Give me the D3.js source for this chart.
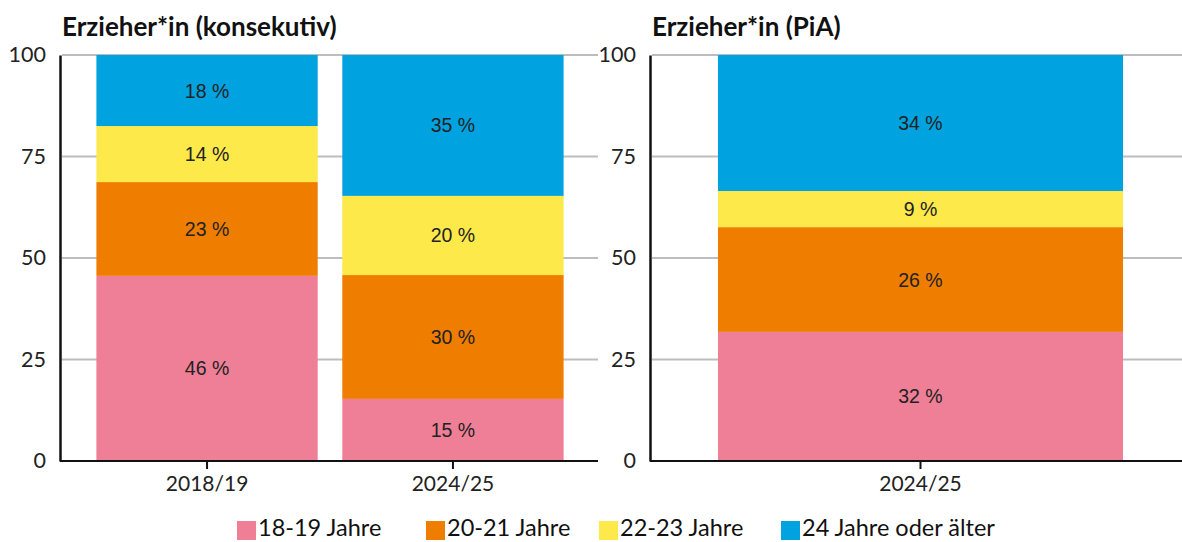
<!DOCTYPE html>
<html lang="de">
<head>
    <meta charset="UTF-8">
    <title>Erzieher*in Altersstruktur</title>
    <script src="https://cdn.jsdelivr.net/npm/d3@7"></script>
    <style>
        body { margin: 0; background: #fff; }
        text { font-family: Lato, "DejaVu Sans", sans-serif; }
    </style>
</head>
<body>
    <div id="vis"></div>

    <script>

        // age groups (stack order bottom -> top)
        var groups = ["18-19 Jahre", "20-21 Jahre", "22-23 Jahre", "24 Jahre oder älter"];
        var colors = ["#ef7f97", "#ee7d00", "#fde94a", "#00a3df"];

        // konsekutiv
        var konsYears = ["2018/19", "2024/25"];
        var kons1819 = [45.6, 23.1, 13.8, 17.5];
        var kons2425 = [15.3, 30.5, 19.5, 34.7];
        var konsLabels = [[46, 23, 14, 18], [15, 30, 20, 35]];

        // PiA
        var piaYears = ["2024/25"];
        var pia2425 = [31.8, 25.8, 8.9, 33.5];
        var piaLabels = [[32, 26, 9, 34]];

        var yTicks = [0, 25, 50, 75, 100];

        var width = 1182;
        var height = 542;

        var svg = d3.select("#vis")
            .append("svg")
              .attr("width", width)
              .attr("height", height);

        var y = d3.scaleLinear()
            .domain([0, 100])
            .range([461, 55]);

        function drawPanel(title, years, values, labels, x0, x1, gridEnd, pOuter) {
            var x = d3.scaleBand()
                .domain(years)
                .range([x0, x1])
                .paddingInner(0.1)
                .paddingOuter(pOuter);

            var g = svg.append("g");

            // grid lines
            g.selectAll(".grid")
                .data(yTicks.slice(1))
                .enter()
                .append("line")
                .attr("x1", x0 + 2)
                .attr("x2", gridEnd)
                .attr("y1", function(d){ return y(d); })
                .attr("y2", function(d){ return y(d); })
                .attr("stroke", "#bdbdbd")
                .attr("stroke-width", 2);

            // stacked bars
            years.forEach(function(yr, i) {
                var cum = 0;
                values[i].forEach(function(v, j) {
                    var lo = cum, hi = cum + v;
                    cum = hi;
                    g.append("rect")
                        .attr("x", x(yr))
                        .attr("width", x.bandwidth())
                        .attr("y", y(Math.min(hi, 100)))
                        .attr("height", y(lo) - y(Math.min(hi, 100)))
                        .attr("fill", colors[j]);
                    g.append("text")
                        .attr("x", x(yr) + x.bandwidth() / 2)
                        .attr("y", (y(lo) + y(Math.min(hi, 100))) / 2 + 7)
                        .attr("text-anchor", "middle")
                        .style("font-family", "'Liberation Sans', Arial, sans-serif")
                        .style("font-size", "19.5px")
                        .attr("fill", "#222")
                        .text(labels[i][j] + " %");
                });
            });

            // baseline
            g.append("line")
                .attr("x1", x0)
                .attr("x2", gridEnd)
                .attr("y1", y(0))
                .attr("y2", y(0))
                .attr("stroke", "#111")
                .attr("stroke-width", 2);

            // y axis
            var yAxis = d3.axisLeft(y).tickValues(yTicks).tickSize(0).tickPadding(14);
            var ya = g.append("g")
                .attr("transform", "translate(" + x0 + ",0)")
                .call(yAxis);
            ya.select(".domain").attr("stroke", "#111").attr("stroke-width", 2.5);
            ya.selectAll("text")
                .style("font-family", "Lato, sans-serif")
                .style("font-size", "21.5px")
                .attr("fill", "#222");

            // x axis
            var xAxis = d3.axisBottom(x).tickSize(8).tickPadding(7);
            var xa = g.append("g")
                .attr("transform", "translate(0," + y(0) + ")")
                .call(xAxis);
            xa.select(".domain").remove();
            xa.selectAll("line").attr("stroke", "#111").attr("stroke-width", 2);
            xa.selectAll("text")
                .style("font-family", "Lato, sans-serif")
                .style("font-size", "21px")
                .attr("fill", "#222");

            // title
            g.append("text")
                .attr("x", x0 + 2)
                .attr("y", 36)
                .style("font-family", "Lato, sans-serif")
                .style("font-weight", "bold")
                .style("font-size", "26px")
                .attr("fill", "#111")
                .text(title);
        }

        drawPanel("Erzieher*in (konsekutiv)", konsYears, [kons1819, kons2425], konsLabels, 60, 600, 598, 0.148);
        drawPanel("Erzieher*in (PiA)", piaYears, [pia2425], piaLabels, 650, 1191, 1182, 0.151);

        // legend
        var legendX = [237, 426, 599, 781];
        var legend = svg.append("g");
        groups.forEach(function(name, i) {
            legend.append("rect")
                .attr("x", legendX[i])
                .attr("y", 521)
                .attr("width", 19)
                .attr("height", 19)
                .attr("fill", colors[i]);
            legend.append("text")
                .attr("x", legendX[i] + 21)
                .attr("y", 536)
                .style("font-family", "Lato, sans-serif")
                .style("font-size", "23.5px")
                .attr("fill", "#111")
                .text(name);
        });

    </script>
</body>
</html>
